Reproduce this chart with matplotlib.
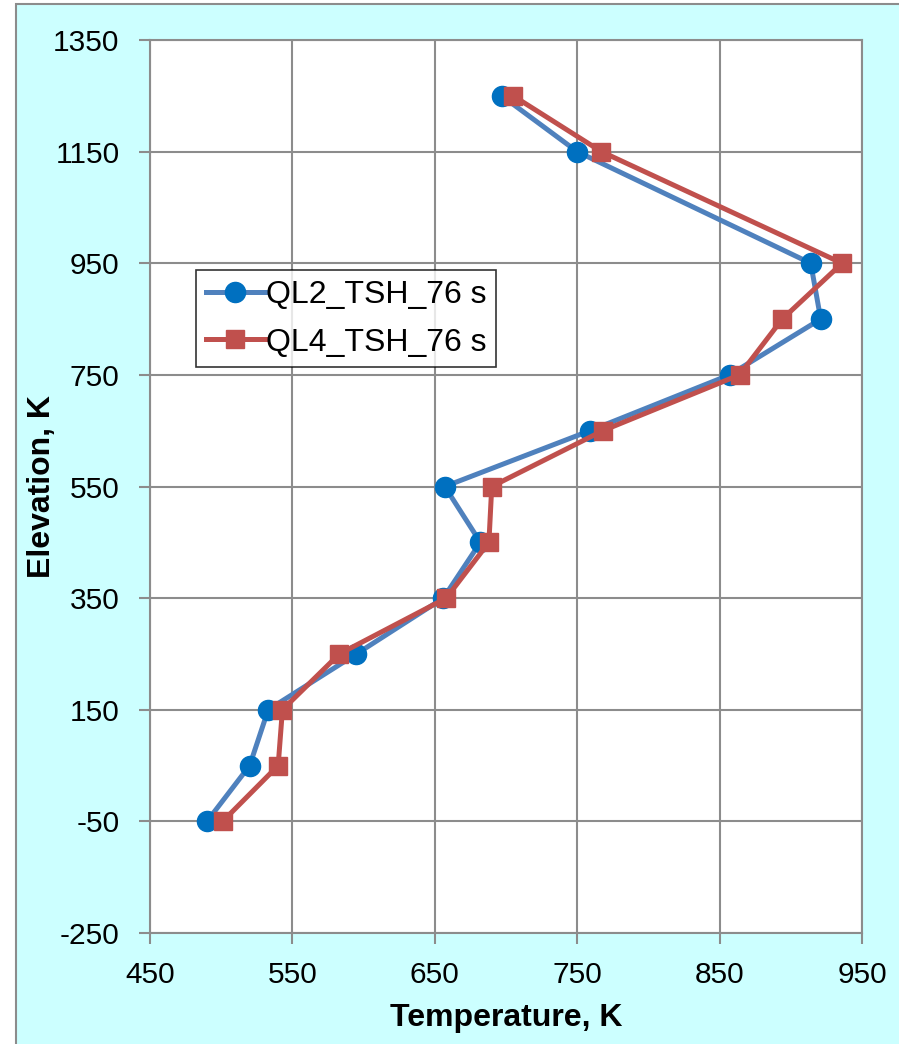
import matplotlib
matplotlib.use("Agg")
import matplotlib.pyplot as plt
from matplotlib.patches import Rectangle

plt.rcParams['font.family'] = ['Liberation Sans', 'DejaVu Sans']
plt.rcParams['axes.unicode_minus'] = False

elevation = [1250, 1150, 950, 850, 750, 650, 550, 450, 350, 250, 150, 50, -50]
ql2_temp = [697, 750, 914, 921, 857, 759, 657, 682, 656, 595, 533, 520, 490]
ql4_temp = [705, 767, 936, 894, 864, 768, 690, 688, 658, 583, 543, 540, 501]
series_labels = ["QL2_TSH_76 s", "QL4_TSH_76 s"]
x_ticks = [450, 550, 650, 750, 850, 950]
y_ticks = [-250, -50, 150, 350, 550, 750, 950, 1150, 1350]

W, H = 899, 1044
fig = plt.figure(figsize=(W / 100, H / 100), dpi=100)
fig.patch.set_facecolor('white')
bg = Rectangle((16 / W, -0.01), 1.05, 1 - 4 / H + 0.01,
               transform=fig.transFigure, facecolor='#CCFFFF',
               edgecolor='#8C8C8C', linewidth=1.5, zorder=-10)
fig.add_artist(bg)

ax = fig.add_axes([150 / W, 1 - 933 / H, (862 - 150) / W, (933 - 40) / H])
ax.set_zorder(1)
ax.set_facecolor('white')

ax.plot(ql2_temp, elevation, color='#4F81BD', linewidth=3.6, marker='o',
        markersize=14.5, markerfacecolor='#0070C0', markeredgecolor='#0070C0',
        label=series_labels[0], zorder=3)
ax.plot(ql4_temp, elevation, color='#C0504D', linewidth=3.6, marker='s',
        markersize=13.5, markerfacecolor='#C0504D', markeredgecolor='#C0504D',
        label=series_labels[1], zorder=4)

ax.set_xlim(450, 950)
ax.set_ylim(-250, 1350)
ax.set_xticks(x_ticks)
ax.set_yticks(y_ticks)
ax.grid(True, color='#8C8C8C', linewidth=1.5)
ax.set_axisbelow(True)
for s in ax.spines.values():
    s.set_color('#8C8C8C')
    s.set_linewidth(1.5)
ax.tick_params(axis='both', direction='out', length=8, width=1.5, color='#8C8C8C',
               labelsize=21.5)
ax.tick_params(axis='x', pad=12)
ax.tick_params(axis='y', pad=14)

ax.set_xlabel('Temperature, K', fontsize=23, fontweight='bold', labelpad=10)
ax.set_ylabel('Elevation, K', fontsize=23, fontweight='bold', labelpad=-3)

leg = ax.legend(loc='upper left', bbox_to_anchor=(0.0646, 0.742), borderaxespad=0,
                fontsize=23, frameon=True, fancybox=False, edgecolor='black',
                handlelength=1.85, handletextpad=0.05, borderpad=0.3, labelspacing=0.55)
leg.get_frame().set_linewidth(1.2)

fig.savefig('out.png', dpi=100, facecolor=fig.get_facecolor())
